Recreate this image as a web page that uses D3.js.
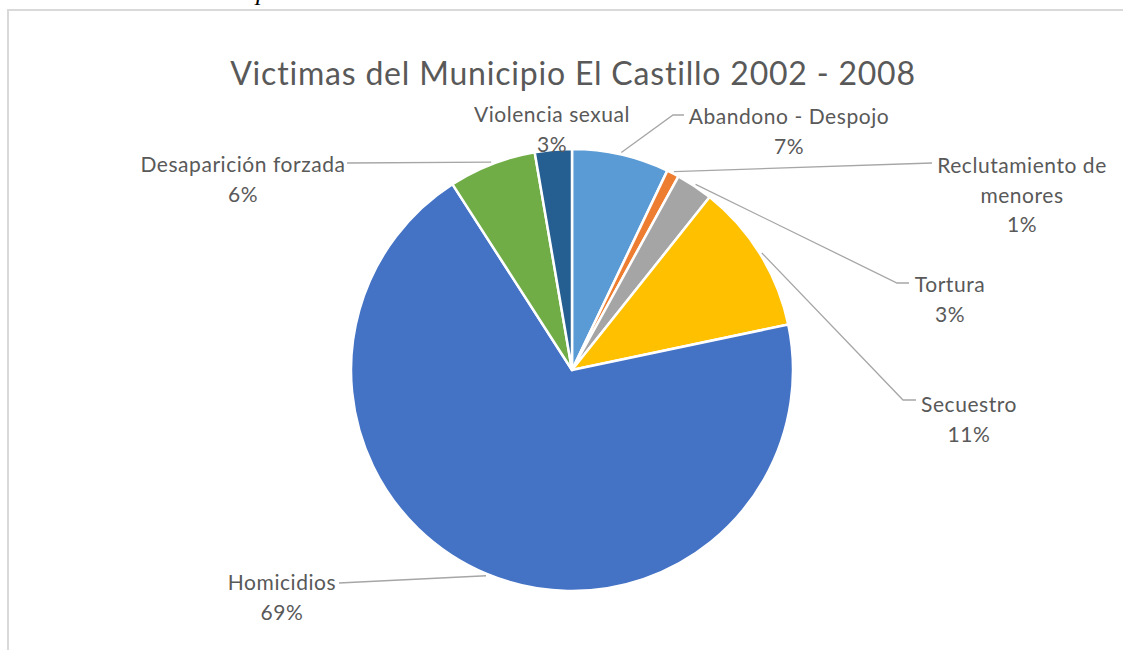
<!DOCTYPE html>
<html>
<head>
<meta charset="utf-8">
<script src="https://cdn.jsdelivr.net/npm/d3@7"></script>
<style>
  html, body { margin: 0; padding: 0; background: #fff; }
  svg { display: block; }
</style>
</head>
<body>
<svg id="chart" width="1123" height="650"></svg>
<script>
// ---- Data ----
const categories = ["Abandono - Despojo", "Reclutamiento de menores", "Tortura", "Secuestro", "Homicidios", "Desaparición forzada", "Violencia sexual"];
const values = [7.1, 0.9, 2.7, 11.0, 69.2, 6.4, 2.7];
const percentLabels = ["7%", "1%", "3%", "11%", "69%", "6%", "3%"];
const colors = ["#5B9BD5", "#ED7D31", "#A5A5A5", "#FFC000", "#4472C4", "#70AD47", "#255E91"];
const titleText = "Victimas del Municipio El Castillo 2002 - 2008";

// ---- Layout (label placement) ----
const labelLayout = [
  { lines: ["Abandono - Despojo"], x: 789, y: 124, leader: [[673, 115], [684, 115]] },
  { lines: ["Reclutamiento de", "menores"], x: 1022, y: 173, leader: [[932, 163]] },
  { lines: ["Tortura"], x: 950, y: 292, leader: [[897, 283], [909, 283]] },
  { lines: ["Secuestro"], x: 969, y: 412, leader: [[903, 400], [916, 400]] },
  { lines: ["Homicidios"], x: 282, y: 590, leader: [[339, 583]] },
  { lines: ["Desaparición forzada"], x: 243, y: 172, leader: [[347, 163]] },
  { lines: ["Violencia sexual"], x: 552, y: 122, leader: null }
];

const svg = d3.select("#chart");
const W = 1123, H = 650;
const cx = 572, cy = 370, r = 221;
const font = "Lato, 'Open Sans', sans-serif";
const lineH = 29.5;

// cut-off caption letter at top
svg.append("text").attr("x", 256).attr("y", 0).attr("font-family", "'Liberation Serif', serif")
  .attr("font-style", "italic").attr("font-size", 26).attr("fill", "#000").text("p");

// chart border
svg.append("path").attr("d", `M8,${H + 5} L8,10 L${W + 5},10`)
  .attr("fill", "none").attr("stroke", "#d9d9d9").attr("stroke-width", 2);

// title
svg.append("text").attr("x", 573).attr("y", 85).attr("text-anchor", "middle")
  .attr("font-family", font).attr("font-size", 32).attr("letter-spacing", 0.8)
  .attr("fill", "#595959").text(titleText);

const data = categories.map((c, i) => ({ cat: c, value: values[i], pct: percentLabels[i], color: colors[i], layout: labelLayout[i] }));

const pie = d3.pie().sort(null).value(d => d.value).startAngle(0).endAngle(2 * Math.PI);
const arcs = pie(data);
const arc = d3.arc().innerRadius(0).outerRadius(r);

const g = svg.append("g").attr("transform", `translate(${cx},${cy})`);
g.selectAll("path.slice").data(arcs).join("path")
  .attr("class", "slice")
  .attr("d", arc)
  .attr("fill", d => d.data.color)
  .attr("stroke", "#fff").attr("stroke-width", 2.5).attr("stroke-linejoin", "round");

// leader lines
const line = d3.line();
arcs.forEach(a => {
  const L = a.data.layout;
  if (!L.leader) return;
  const mid = (a.startAngle + a.endAngle) / 2;
  const rr = r + 2;
  const start = [cx + rr * Math.sin(mid), cy - rr * Math.cos(mid)];
  svg.append("path").attr("d", line([start, ...L.leader]))
    .attr("fill", "none").attr("stroke", "#a6a6a6").attr("stroke-width", 1.3);
});

// labels
arcs.forEach(a => {
  const L = a.data.layout;
  const t = svg.append("text").attr("text-anchor", "middle")
    .attr("font-family", font).attr("font-size", 21).attr("letter-spacing", 0.55)
    .attr("fill", "#595959");
  const all = [...L.lines, a.data.pct];
  all.forEach((s, i) => {
    t.append("tspan").attr("x", L.x).attr("y", L.y + i * lineH).text(s);
  });
});
</script>
</body>
</html>
